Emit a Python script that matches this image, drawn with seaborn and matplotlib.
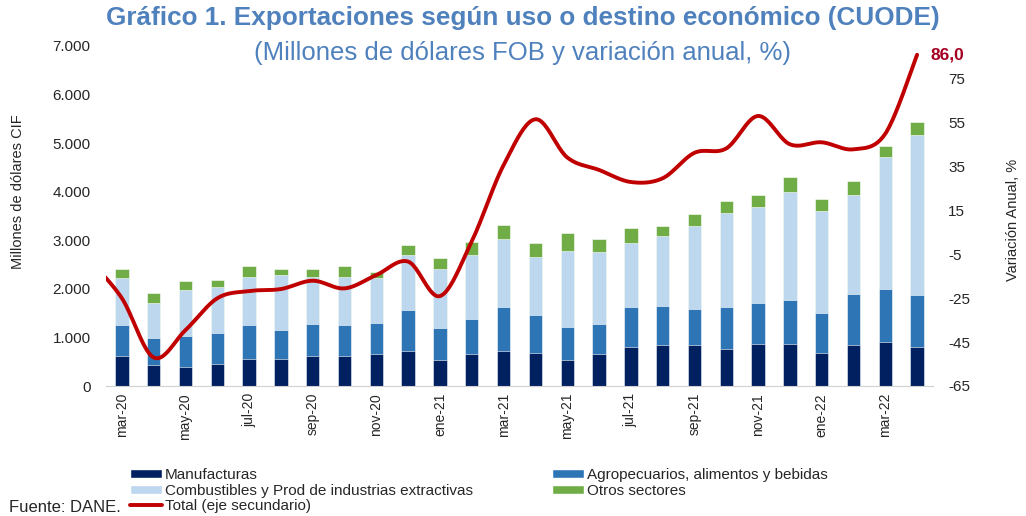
import numpy as np
import pandas as pd
import matplotlib
matplotlib.use("Agg")
import matplotlib.pyplot as plt
import seaborn as sns
from matplotlib.patches import Patch
from matplotlib.lines import Line2D

# Data
months = ["mar-20", "abr-20", "may-20", "jun-20", "jul-20", "ago-20", "sep-20", "oct-20",
          "nov-20", "dic-20", "ene-21", "feb-21", "mar-21", "abr-21", "may-21", "jun-21",
          "jul-21", "ago-21", "sep-21", "oct-21", "nov-21", "dic-21", "ene-22", "feb-22",
          "mar-22", "abr-22"]
manufacturas = [622, 437, 397, 458, 561, 561, 622, 622, 650, 719, 527, 650, 719,
                685, 527, 650, 808, 842, 842, 753, 869, 869, 685, 842, 910, 808]
agropecuarios = [624, 555, 630, 630, 685, 589, 651, 624, 657, 842, 657, 726, 903,
                 780, 685, 623, 814, 814, 746, 869, 849, 911, 814, 1061, 1088, 1061]
combustibles = [972, 727, 944, 945, 999, 1129, 979, 999, 911, 1129, 1225, 1314, 1403,
                1191, 1574, 1479, 1314, 1438, 1697, 1944, 1971, 2224, 2094, 2033, 2718, 3292]
otros = [191, 191, 185, 150, 226, 130, 157, 226, 123, 219, 219, 281, 294,
         280, 370, 280, 315, 191, 247, 253, 247, 308, 253, 287, 226, 280]
# variacion anual del total (%), first value is feb-20 (cut at plot edge)
var_feb20 = -8
var_total = [-25, -52, -39.5, -25, -21.7, -20.8, -17, -20.5, -14.4, -8.3, -24, 1, 35.7,
             56.6, 39.2, 33.5, 28, 29.7, 41.3, 43.3, 58.1, 45.2, 46.1, 42.9, 50, 86.0]

navy = "#002060"
blue = "#2E75B6"
light = "#BDD7EE"
green = "#70AD47"
red = "#C00000"
title_col = "#4F81BD"

sns.set_style("white")
plt.rcParams["font.family"] = ["Liberation Sans", "DejaVu Sans"]

df = pd.DataFrame({"mes": months, "manuf": manufacturas, "agro": agropecuarios,
                   "comb": combustibles, "otros": otros})
df["t1"] = df["manuf"]
df["t2"] = df["t1"] + df["agro"]
df["t3"] = df["t2"] + df["comb"]
df["t4"] = df["t3"] + df["otros"]

fig = plt.figure(figsize=(10.26, 5.16), dpi=100)
ax = fig.add_axes([106 / 1026, 130 / 516, 827 / 1026, 340 / 516])

# stacked bars: draw cumulative totals from the top down
for col, c in [("t4", green), ("t3", light), ("t2", blue), ("t1", navy)]:
    sns.barplot(data=df, x="mes", y=col, color=c, saturation=1, width=0.42,
                edgecolor="white", linewidth=0.4, ax=ax)

# smoothed line (Excel-like Bezier through the points) on secondary axis
px = np.arange(-1, len(months), dtype=float)
py = np.array([var_feb20] + var_total, dtype=float)
xs, ys = [], []
for i in range(len(px) - 1):
    p0 = i - 1 if i > 0 else i
    p3 = i + 2 if i + 2 < len(px) else i + 1
    t = np.linspace(0, 1, 25)
    for arr, out in [(px, xs), (py, ys)]:
        a0, a1, a2, a3 = arr[p0], arr[i], arr[i + 1], arr[p3]
        c1 = a1 + (a2 - a0) / 6
        c2 = a2 - (a3 - a1) / 6
        seg = ((1 - t) ** 3 * a1 + 3 * (1 - t) ** 2 * t * c1
               + 3 * (1 - t) * t ** 2 * c2 + t ** 3 * a2)
        out.extend(seg)

ax2 = ax.twinx()
ax2.plot(xs, ys, color=red, linewidth=2.8, solid_capstyle="round")
ax2.annotate(f"{var_total[-1]:.1f}".replace(".", ","), xy=(len(months) - 1, var_total[-1]),
             xytext=(10, 0), textcoords="offset points", ha="left", va="center",
             color="#A50021", fontsize=12.5, fontweight="bold", annotation_clip=False)

ax.set_xlim(-0.5, len(months) - 0.5)
ax.set_ylim(0, 7000)
ax2.set_ylim(-65, 90)

ax.set_xticks(range(0, len(months), 2))
ax.set_xticklabels(months[::2], rotation=90, fontsize=10)
ax.set_xticks(np.arange(-0.5, len(months) - 1, 2), minor=True)
ax.tick_params(axis="x", which="major", length=0, pad=5)
ax.tick_params(axis="x", which="minor", length=6, color="#BFBFBF", width=0.8)
ax.set_xlabel("")
ax.set_ylabel("")

yt = list(range(0, 7001, 1000))
ax.set_yticks(yt)
ax.set_yticklabels([f"{v:,}".replace(",", ".") for v in yt], fontsize=11)
ax.tick_params(axis="y", length=0, pad=11)

yt2 = list(range(-65, 76, 20))
ax2.set_yticks(yt2)
ax2.set_yticklabels([str(v) for v in yt2], fontsize=11)
ax2.tick_params(axis="y", length=0, pad=11)

for a in (ax, ax2):
    for s in ["top", "left", "right"]:
        a.spines[s].set_visible(False)
    a.spines["bottom"].set_color("#D0D0D0")
ax2.spines["bottom"].set_visible(False)
ax.grid(False)
ax2.grid(False)

fig.text(18 / 1026, 1 - 192 / 516, "Millones de dólares CIF", rotation=90,
         ha="center", va="center", fontsize=10.5)
fig.text(1013 / 1026, 1 - 220 / 516, "Variación Anual, %", rotation=90,
         ha="center", va="center", fontsize=10.5)

fig.text(523 / 1026, 1 - 18 / 516,
         "Gráfico 1. Exportaciones según uso o destino económico (CUODE)",
         ha="center", va="center", fontsize=18.8, fontweight="bold", color=title_col)
fig.text(522 / 1026, 1 - 53 / 516, "(Millones de dólares FOB y variación anual, %)",
         ha="center", va="center", fontsize=18.5, color=title_col)

# legend in two blocks
h_man = Patch(facecolor=navy, label="Manufacturas")
h_comb = Patch(facecolor=light, label="Combustibles y Prod de industrias extractivas")
h_tot = Line2D([0], [0], color=red, linewidth=2.8, label="Total (eje secundario)")
h_agro = Patch(facecolor=blue, label="Agropecuarios, alimentos y bebidas")
h_otr = Patch(facecolor=green, label="Otros sectores")

leg_kw = dict(frameon=False, fontsize=11, handlelength=2.1, handleheight=0.55,
              handletextpad=0.2, labelspacing=0.1, borderpad=0, borderaxespad=0)
leg1 = fig.legend(handles=[h_man, h_comb, h_tot], loc="upper left",
                  bbox_to_anchor=(130 / 1026, 1 - 468 / 516), **leg_kw)
leg2 = fig.legend(handles=[h_agro, h_otr], loc="upper left",
                  bbox_to_anchor=(552 / 1026, 1 - 468 / 516), **leg_kw)

fig.text(9 / 1026, 1 - 508 / 516, "Fuente: DANE.", ha="left", va="center", fontsize=12)

plt.savefig("out.png", dpi=100)
plt.close()
